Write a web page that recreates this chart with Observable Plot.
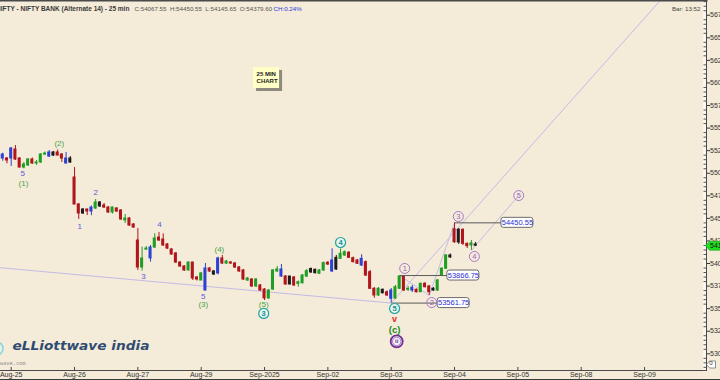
<!DOCTYPE html>
<html><head><meta charset="utf-8">
<script src="https://cdn.jsdelivr.net/npm/d3@7"></script>
<script src="https://cdn.jsdelivr.net/npm/@observablehq/plot@0.6"></script>
<style>
html,body{margin:0;padding:0;background:#3c3c3c;overflow:hidden;width:720px;height:380px}
#chart{width:720px;height:379px;background:#f4ebd8}
#chart svg{display:block}
</style></head><body><div id="chart"></div>
<script>
// ---------- data (25-min bars, index 0 = first bar of Aug-25) ----------
const firstBar = -3;
const opens = [55196,55163,55163,
 55163,55263,55163,55063,55086,55152,55108,55119,55207,55230,55196,55230,55207,55163,55119,
 54953,54654,54554,54598,54576,54609,54632,54643,54620,54565,54609,54587,54477,54499,54432,
 54255,53956,54155,54056,54177,54288,54266,54211,54155,54111,54011,53967,53923,54011,53845,
 53812,53701,53945,53912,53890,54056,54000,54011,54000,53956,53923,53812,53823,53746,53757,
 53712,53613,53712,53912,53934,53856,53768,53845,53775,53782,53856,53901,53893,53886,53923,
 54008,53912,53934,54052,54089,54119,54059,54034,53978,54015,53904,53720,53646,53709,53682,
 53609,53613,53720,53856,53709,53731,53709,53682,53775,53746,53701,53701,53862,53942,54089,
 54379.6,54233,54374,54218,54200,54211];
const highs = [55207,55222,55174,
 55285,55307,55174,55119,55163,55169,55141,55218,55235,55252,55241,55257,55218,55230,55185,
 55063,54665,54609,54604,54637,54709,54687,54665,54632,54626,54620,54598,54543,54510,54443,
 54388,54181,54188,54200,54329,54344,54329,54222,54166,54122,54022,53978,54017,54015,53856,
 53901,54000,53956,53923,54070,54089,54034,54022,54011,53967,53934,53845,53834,53834,53768,
 53723,53712,53934,53967,53989,53867,53856,53856,53806,53878,53934,53950,53939,53934,54017,
 54022,54163,54089,54161,54139,54133,54072,54045,54097,54028,53923,53734,53734,53718,53696,
 53723,53757,53866.75,53862,53746,53757,53718,53784,53790,53757,53734,53823,53956,54100,54105,
 54450.55,54388,54382,54227,54255,54233];
const lows = [55163,55133,55104,
 55075,55141,55058,55049,55075,55097,55086,55108,55196,55174,55185,55191,55119,55102,55108,
 54648,54488,54543,54532,54530,54598,54620,54609,54554,54548,54565,54477,54443,54410,54388,
 53923,53917,54144,54015,54166,54244,54188,54155,54089,54000,53956,53912,53917,53812,53806,
 53808,53696,53901,53867,53875,53989,53989,53989,53945,53901,53812,53801,53734,53734,53690,
 53590,53602,53701,53901,53845,53757,53762,53746,53738,53773,53845,53890,53884,53878,53912,
 53978,53901,53923,54045,54078,54056,54006,53989,53967,53856,53712,53615,53635,53662,53635,
 53561.75,53602,53712,53690,53690,53679,53674,53679,53729,53646,53690,53690,53856,53934,54056,
 54222,54211,54200,54166,54145.65,54188];
const closes = [55174,55207,55141,
 55274,55152,55063,55097,55152,55108,55119,55207,55218,55185,55230,55196,55163,55108,55163,
 54654,54554,54598,54576,54620,54676,54676,54620,54565,54620,54576,54488,54499,54421,54399,
 53956,54056,54166,54177,54277,54255,54200,54166,54100,54011,53967,53923,54011,53834,53823,
 53890,53945,53912,53878,54056,54000,54022,54000,53956,53912,53823,53834,53746,53823,53701,
 53613,53701,53923,53934,53856,53768,53856,53757,53793,53867,53915,53939,53930,53923,54004,
 53989,54034,54063,54108,54125,54063,54015,53997,54052,53867,53720,53646,53720,53671,53646,
 53701,53738,53856,53701,53720,53701,53682,53775,53738,53682,53720,53812,53942,54089,54067.55,
 54236,54374,54218,54192,54222,54197];
// bar type: g = up, r = down, b = outside bar, k = inside bar
const kinds = ["r","b","r",
 "b","r","r","g","g","r","g","g","g","b","k","r","r","b","k",
 "r","r","k","r","b","g","k","r","r","g","r","r","g","r","r",
 "r","g","g","b","g","r","r","r","r","r","r","r","g","r","r",
 "g","b","r","k","b","r","g","r","r","r","r","g","r","g","r",
 "r","g","g","g","b","r","k","r","g","g","g","k","k","g","g",
 "r","b","k","g","g","r","r","r","b","r","r","r","g","k","r",
 "b","g","g","r","g","b","r","g","r","r","k","g","g","g","k",
 "r","k","r","r","g","k"];

const dayTicks = [0,15,30,45,60,75,90,105,120,135,150];
const dayLabels = ["Aug-25","Aug-26","Aug-27","Aug-29","Sep-2025","Sep-02","Sep-03","Sep-04","Sep-05","Sep-08","Sep-09"];
const priceTicks = d3.range(53000, 56751, 250);
const minorTicks = d3.range(52850, 56901, 50).filter(v => v % 250 !== 0);

// trend / channel lines [bar, price] -> [bar, price]
const trendFromBar = [-3, 90, 92, 99, 109];
const trendFromPrice = [53955, 53561.75, 53866.75, 53646, 54145.65];
const trendToBar = [90, 160, 99, 105, 120.2];
const trendToPrice = [53561.75, 57244, 53646, 54450.55, 54753];

// price level tags
const levelPrice = [54450.55, 53866.75, 53561.75];
const levelFromBar = [105, 92, 90];
const levelTagBar = [116.1, 103.3, 101.0];

// wave labels
const waveText  = ["5","(1)","(2)","1","2","3","4","5","(3)","(4)","(5)"];
const waveBar   = [2.7,2.9,11.4,16.2,20.0,31.3,35.1,45.5,45.5,49.3,59.8];
const wavePrice = [54997,54886,55329,54410,54787,53856,54432,53635,53546,54155,53546];
const waveDeg   = ["minute","minor","minor","minute","minute","minute","minute","minute","minor","minor","minor"];
const tealText = ["3","4","5"], tealBar = [59.8,78.0,90.8], tealPrice = [53447,54233,53502];
const purpText = ["1","2","3","4","5"], purpBar = [93.2,99.6,105.9,109.7,120.2], purpPrice = [53945,53568,54521,54078,54753];
const redText = ["v"], redBar = [90.8], redPrice = [53380];
const primText = ["(c)"], primBar = [90.8], primPrice = [53269];
const ringText = ["ii"], ringBar = [91.3], ringPrice = [53137];

const noteBar = 57.4, notePrice = 56171;
const lastClose = closes[closes.length - 1];

// ---------- build ----------
const candles = opens.map((o, k) => ({i: firstBar + k, open: o, high: highs[k], low: lows[k], close: closes[k], kind: kinds[k]}));
const trends = trendFromBar.map((b, k) => ({x1: b, y1: trendFromPrice[k], x2: trendToBar[k], y2: trendToPrice[k]}));
const levels = levelPrice.map((p, k) => ({price: p, from: levelFromBar[k], at: levelTagBar[k]}));
const waves = waveText.map((t, k) => ({t, i: waveBar[k], p: wavePrice[k], deg: waveDeg[k]}));
const pts = (T, B, P) => T.map((t, k) => ({t, i: B[k], p: P[k]}));
const teal = pts(tealText, tealBar, tealPrice), purp = pts(purpText, purpBar, purpPrice);
const red = pts(redText, redBar, redPrice), prim = pts(primText, primBar, primPrice), ring = pts(ringText, ringBar, ringPrice);
const dayLabelOf = new Map(dayTicks.map((d, k) => [d, dayLabels[k]]));

const FONT = "Liberation Sans, Arial, sans-serif";
const tag = {draw(ctx) { ctx.moveTo(-1, 0); ctx.lineTo(3, -4.5); ctx.lineTo(20, -4.5); ctx.lineTo(20, 4.5); ctx.lineTo(3, 4.5); ctx.closePath(); }};
const tagSmall = {draw(ctx) { ctx.moveTo(0, 0); ctx.lineTo(3, -3.5); ctx.lineTo(9, -3.5); ctx.lineTo(9, 3.5); ctx.lineTo(3, 3.5); ctx.closePath(); }};

const chart = Plot.plot({
  width: 720, height: 379,
  marginTop: 0, marginRight: 14, marginBottom: 9, marginLeft: 0,
  style: {background: "transparent", fontFamily: FONT, color: "#333"},
  x: {type: "linear", domain: [0, 150], range: [10.7, 10.7 + 150 * 4.2223]},
  y: {type: "linear", domain: [53000, 56500], range: [353.3, 37.3]},
  color: {domain: ["g","r","b","k"], range: ["#1f9e24", "#b0161c", "#2d42d4", "#1c1c1c"]},
  marks: [
    Plot.frame({anchor: "right", stroke: "#fbf7ef", strokeWidth: 3, dx: -2}),
    // trend lines
    Plot.link(trends, {x1: "x1", y1: "y1", x2: "x2", y2: "y2", stroke: "#c3bbe7", strokeWidth: 1}),
    // note box
    Plot.rect([0], {x1: () => noteBar, x2: () => noteBar, y1: () => notePrice, y2: () => notePrice,
      insetLeft: 3, insetRight: -29, insetTop: 3, insetBottom: -24, fill: "#8e8a80"}),
    Plot.rect([0], {x1: () => noteBar, x2: () => noteBar, y1: () => notePrice, y2: () => notePrice,
      insetLeft: 0, insetRight: -26, insetTop: 0, insetBottom: -21, fill: "#ffffc6"}),
    Plot.text(["25 MIN\nCHART"], {x: () => noteBar, y: () => notePrice, dx: 3, dy: 4, textAnchor: "start", lineAnchor: "top",
      fontSize: 6, fontWeight: "bold", fill: "#222", lineHeight: 1.15}),
    // candles
    Plot.ruleX(candles, {x: "i", y1: "low", y2: "high", stroke: "kind", strokeWidth: 1}),
    Plot.rect(candles, {x1: d => d.i - 0.36, x2: d => d.i + 0.36, y1: "open", y2: "close", fill: "kind", insetTop: -0.5, insetBottom: -0.5}),
    // price level tags
    Plot.link(levels, {x1: "from", x2: "at", y1: "price", y2: "price", stroke: "#5a5a5a", strokeWidth: 1}),
    Plot.rect(levels, {x1: "at", x2: "at", y1: "price", y2: "price", insetLeft: 0, insetRight: -32, insetTop: -5, insetBottom: -5,
      rx: 2.5, fill: "#ffffff", stroke: "#6a6a6a"}),
    Plot.text(levels, {x: "at", y: "price", text: d => d.price.toFixed(2), dx: 16, fill: "#2a2fd6", fontSize: 7.5}),
    // wave labels
    Plot.text(waves.filter(d => d.deg === "minute"), {x: "i", y: "p", text: "t", fill: "#5a5ae0", fontSize: 8}),
    Plot.text(waves.filter(d => d.deg === "minor"), {x: "i", y: "p", text: "t", fill: "#49a549", fontSize: 8}),
    Plot.dot(teal, {x: "i", y: "p", r: 5, stroke: "#1fa3a3", fill: "#e8f4ee", strokeWidth: 1.2}),
    Plot.text(teal, {x: "i", y: "p", text: "t", fill: "#178f8f", fontSize: 7.5, fontWeight: "bold"}),
    Plot.dot(purp, {x: "i", y: "p", r: 5, stroke: "#a678cc", fill: "none", strokeWidth: 1}),
    Plot.text(purp, {x: "i", y: "p", text: "t", fill: "#9a62c4", fontSize: 7.5}),
    Plot.text(red, {x: "i", y: "p", text: "t", fill: "#e02828", fontSize: 9, fontWeight: "bold"}),
    Plot.text(prim, {x: "i", y: "p", text: "t", fill: "#1d8a22", fontSize: 9.5, fontWeight: "bold"}),
    Plot.dot(ring, {x: "i", y: "p", r: 6, stroke: "#6e2f93", fill: "#f7f1f9", strokeWidth: 1.8}),
    Plot.dot(ring, {x: "i", y: "p", r: 4.2, stroke: "#6e2f93", fill: "none", strokeWidth: 0.6}),
    Plot.text(ring, {x: "i", y: "p", text: "t", fill: "#6e2f93", fontSize: 6, fontWeight: "bold"}),
    // watermark
    Plot.dot([0], {frameAnchor: "bottom-left", dx: -4, dy: -22, r: 6.5, stroke: "#8fd3d8", fill: "#dff2f2", strokeWidth: 1.5}),
    Plot.text(["eLLiottwave india"], {frameAnchor: "bottom-left", dx: 12, dy: -21, textAnchor: "start",
      fontSize: 12.5, fontWeight: "bold", fontStyle: "italic", fill: "#2f4b73", fontFamily: "DejaVu Sans"}),
    Plot.text(["www.elliottwave.com"], {frameAnchor: "bottom-left", dx: 25, dy: -6, textAnchor: "end",
      fontSize: 5.3, fill: "#8a8a8a", fontFamily: "DejaVu Sans Mono"}),
    // header
    Plot.text(["NIFTY - NIFTY BANK (Alternate 14) - 25 min"], {frameAnchor: "top-left", dx: -4.5, dy: 6, textAnchor: "start",
      fontSize: 6.5, fontWeight: "bold", fill: "#3a3a3a"}),
    Plot.text(["C:54067.55  H:54450.55  L:54145.65  O:54379.60"], {frameAnchor: "top-left", dx: 134, dy: 6, textAnchor: "start",
      fontSize: 6.2, fill: "#555"}),
    Plot.text(["CH:0.24%"], {frameAnchor: "top-left", dx: 273, dy: 6, textAnchor: "start", fontSize: 6.2, fill: "#2b3be0"}),
    Plot.text(["Bar: 13:52"], {frameAnchor: "top-right", dx: -6, dy: 6, textAnchor: "end", fontSize: 6.2, fill: "#444"}),
    // axes
    Plot.ruleY(minorTicks, {insetLeft: 703.5, stroke: "#555"}),
    Plot.axisY(priceTicks, {anchor: "right", tickSize: 3, tickPadding: 0.5, tickFormat: d => String(d), fontSize: 7, color: "#333", label: null}),
    Plot.ruleX(dayTicks, {insetTop: 367, stroke: "#444"}),
    Plot.axisX(dayTicks, {anchor: "bottom", tickSize: 0, tickPadding: 2, tickFormat: d => dayLabelOf.get(d), fontSize: 7, color: "#333", label: null}),
    Plot.frame({anchor: "right", stroke: "#4a4a4a"}),
    Plot.frame({anchor: "bottom", stroke: "#4a4a4a"}),
    Plot.frame({anchor: "top", stroke: "#4a4a4a", strokeWidth: 2}),
    // last price tag and indicator tag
    Plot.dot([lastClose], {y: d => d, frameAnchor: "right", symbol: tag, fill: "#1fe01f", stroke: "#17a017", strokeWidth: 0.6}),
    Plot.text([lastClose], {y: d => d, frameAnchor: "right", dx: 3.5, text: d => d.toFixed(0), textAnchor: "start", fontSize: 7, fill: "#111"}),
    Plot.dot([0], {frameAnchor: "bottom-right", dy: -6, symbol: tagSmall, fill: "#ffffff", stroke: "#666", strokeWidth: 0.7}),
    Plot.text(["0"], {frameAnchor: "bottom-right", dx: 6, dy: -6, fontSize: 6, fill: "#333"})
  ]
});
d3.select(chart).selectAll("text").filter(function() { return this.textContent === "eLLiottwave india"; })
  .attr("textLength", 137).attr("lengthAdjust", "spacingAndGlyphs");
document.getElementById("chart").appendChild(chart);
</script></body></html>
